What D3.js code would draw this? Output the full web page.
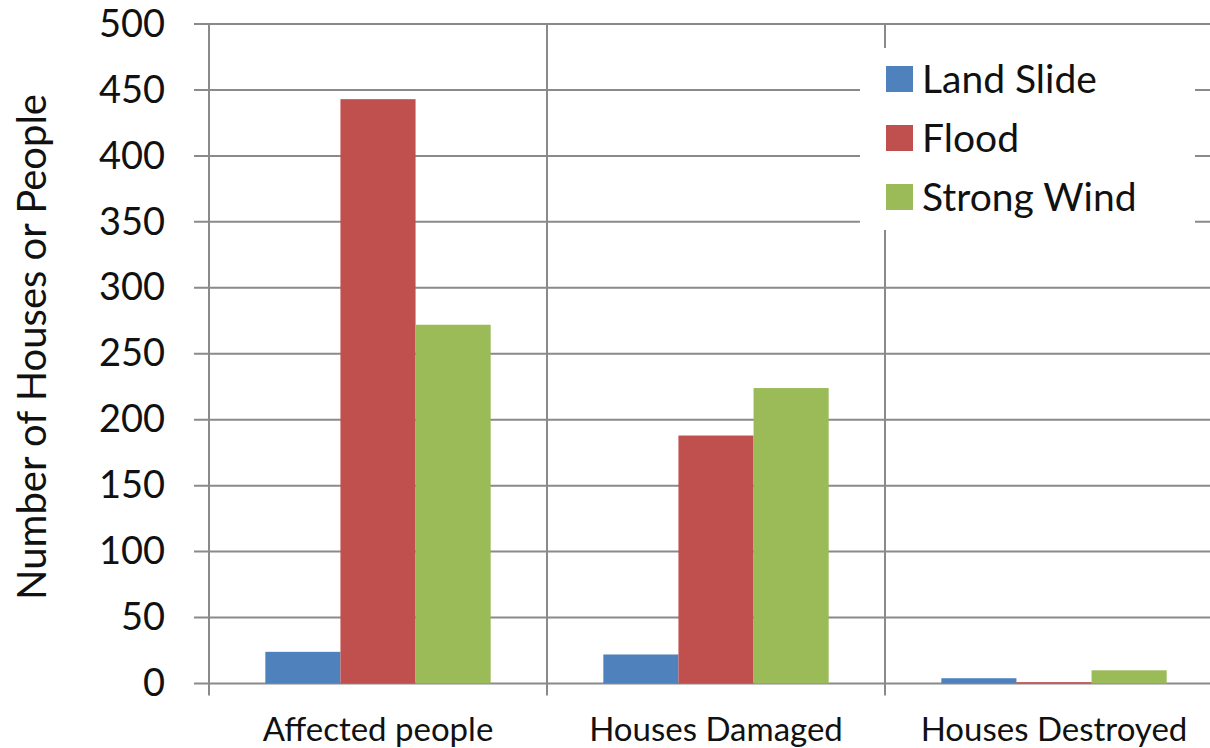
<!DOCTYPE html>
<html>
<head>
<meta charset="utf-8">
<script src="https://cdn.jsdelivr.net/npm/d3@7"></script>
<style>
  html, body { margin: 0; padding: 0; background: #fff; }
  svg { display: block; }
  text { font-family: Lato, "Open Sans", sans-serif; fill: #111; }
</style>
</head>
<body>
<svg id="chart" width="1210" height="748"></svg>
<script>
// Impacts by hazard type
const categories = ["Affected people", "Houses Damaged", "Houses Destroyed"];
const seriesNames = ["Land Slide", "Flood", "Strong Wind"];
const landSlide = [24, 22, 4];
const flood = [443, 188, 1];
const strongWind = [272, 224, 10];
const yTicks = [0, 50, 100, 150, 200, 250, 300, 350, 400, 450, 500];
const colors = ["#4F81BD", "#C0504D", "#9BBB59"];

const seriesValues = [landSlide, flood, strongWind];

const svg = d3.select("#chart");
const W = 1210, H = 748;
const margin = { left: 209, top: 24, right: -13, bottom: 64.5 };
const innerW = W - margin.left - margin.right;
const innerH = H - margin.top - margin.bottom;

const g = svg.append("g").attr("transform", `translate(${margin.left},${margin.top})`);

const x0 = d3.scaleBand().domain(categories).range([0, innerW]).paddingInner(0).paddingOuter(0);
const x1 = d3.scaleBand().domain(seriesNames)
  .range([0, x0.bandwidth()]).paddingOuter(0.75).paddingInner(0);
const y = d3.scaleLinear().domain([0, 500]).range([innerH, 0]);

const gridColor = "#8a8a8a";

// horizontal gridlines with left ticks
g.append("g").selectAll("line").data(yTicks).join("line")
  .attr("x1", -15).attr("x2", innerW)
  .attr("y1", d => y(d)).attr("y2", d => y(d))
  .attr("stroke", gridColor).attr("stroke-width", 2);

// vertical axis and category dividers extending below as ticks
const dividers = d3.range(categories.length + 1).map(i => i * x0.bandwidth());
g.append("g").selectAll("line").data(dividers).join("line")
  .attr("x1", d => d).attr("x2", d => d)
  .attr("y1", 0).attr("y2", innerH + 12)
  .attr("stroke", gridColor).attr("stroke-width", 2);

// y tick labels
const yAxis = d3.axisLeft(y).tickValues(yTicks).tickSize(0).tickPadding(44);
const ya = g.append("g").call(yAxis);
ya.select(".domain").remove();
ya.selectAll("text").attr("font-size", 38).attr("font-family", "Lato, sans-serif").attr("fill", "#111");

// bars
const groups = g.append("g").selectAll("g").data(categories).join("g")
  .attr("transform", d => `translate(${x0(d)},0)`);
groups.selectAll("rect")
  .data((c, ci) => seriesNames.map((s, si) => ({ s, si, v: seriesValues[si][ci] })))
  .join("rect")
  .attr("x", d => x1(d.s))
  .attr("width", x1.bandwidth())
  .attr("y", d => y(d.v))
  .attr("height", d => innerH - y(d.v))
  .attr("fill", d => colors[d.si]);

// category labels
const xAxis = d3.axisBottom(x0).tickSize(0).tickPadding(34);
const xa = g.append("g").attr("transform", `translate(0,${innerH})`).call(xAxis);
xa.select(".domain").remove();
xa.selectAll("text").attr("font-size", 33).attr("font-family", "Lato, sans-serif").attr("fill", "#111");

// y axis title
svg.append("text")
  .attr("transform", `translate(46,347) rotate(-90)`)
  .attr("text-anchor", "middle")
  .attr("font-size", 40)
  .text("Number of Houses or People");

// legend
const legend = svg.append("g").attr("transform", "translate(860,48)");
legend.append("rect").attr("width", 335).attr("height", 182).attr("fill", "#fff");
const items = legend.selectAll("g").data(seriesNames).join("g")
  .attr("transform", (d, i) => `translate(26,${18 + i * 59})`);
items.append("rect").attr("width", 27).attr("height", 26).attr("fill", (d, i) => colors[i]);
items.append("text").attr("x", 36).attr("y", 13).attr("dy", "0.35em")
  .attr("font-size", 39).text(d => d);
</script>
</body>
</html>
